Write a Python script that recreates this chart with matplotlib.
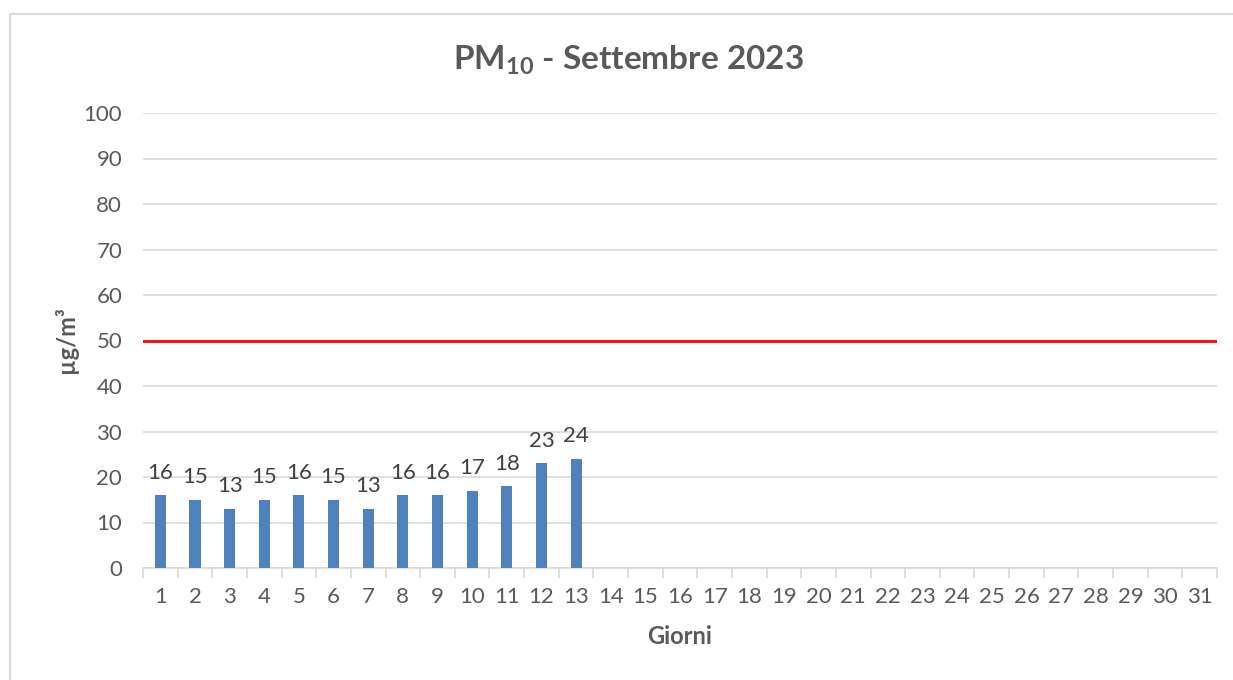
import matplotlib
matplotlib.use("Agg")
import matplotlib.pyplot as plt
from matplotlib.lines import Line2D
from matplotlib.ticker import FixedLocator

# dati PM10 settembre 2023
giorni = list(range(1, 32))
valori = [16, 15, 13, 15, 16, 15, 13, 16, 16, 17, 18, 23, 24]
limite = 50
y_ticks = list(range(0, 101, 10))

plt.rcParams['font.family'] = ['Lato', 'DejaVu Sans']
plt.rcParams['mathtext.fontset'] = 'custom'
plt.rcParams['mathtext.rm'] = 'Lato:bold'
plt.rcParams['mathtext.it'] = 'Lato:bold'
plt.rcParams['mathtext.bf'] = 'Lato:bold'

testo = '#595959'
griglia = '#d9d9d9'

fig = plt.figure(figsize=(12.33, 6.80), dpi=100)
ax = fig.add_axes([143/1233, 1 - 568/680, (1217 - 143)/1233, (568 - 113)/680])

x = giorni[:len(valori)]
bars = ax.bar(x, valori, width=0.32, color='#4f81bd', zorder=3)
for b, v in zip(bars, valori):
    ax.annotate(str(v), (b.get_x() + b.get_width()/2, v), xytext=(0, 9),
                textcoords='offset points', ha='center', va='bottom',
                fontsize=16, color='#404040', zorder=4)

# linea limite
ax.axhline(limite, color='#ff0000', lw=2, zorder=3)

ax.set_xlim(0.5, 31.5)
ax.set_ylim(0, 100)
ax.set_yticks(y_ticks)
ax.yaxis.grid(True, color=griglia, lw=1.2, zorder=0)
ax.set_axisbelow(True)

ax.set_xticks(giorni)
ax.xaxis.set_minor_locator(FixedLocator([g + 0.5 for g in range(0, 32)]))
ax.tick_params(axis='x', which='major', length=0, labelsize=16, labelcolor=testo, pad=14)
ax.tick_params(axis='x', which='minor', length=7, color=griglia, width=1.2)
ax.tick_params(axis='y', length=0, labelsize=16, labelcolor=testo, pad=15)

for s in ['top', 'right', 'left']:
    ax.spines[s].set_visible(False)
ax.spines['bottom'].set_color(griglia)
ax.spines['bottom'].set_linewidth(1.2)

fig.text(628/1233, 1 - 60/680, r'$\mathrm{PM_{10}}$ - Settembre 2023', ha='center', va='center',
         fontsize=24, fontweight='bold', color=testo)
fig.text(680/1233, 1 - 636/680, 'Giorni', ha='center', va='center',
         fontsize=17, fontweight='bold', color=testo)
fig.text(66/1233, 1 - 340/680, 'µg/m³', ha='center', va='center', rotation=90,
         fontsize=17, fontweight='bold', color=testo)

# bordo del grafico
fig.add_artist(Line2D([10/1233, 10/1233, 1.0], [0, 1 - 14/680, 1 - 14/680],
                      transform=fig.transFigure, color=griglia, lw=1.5))

fig.savefig('out.png', dpi=100)
